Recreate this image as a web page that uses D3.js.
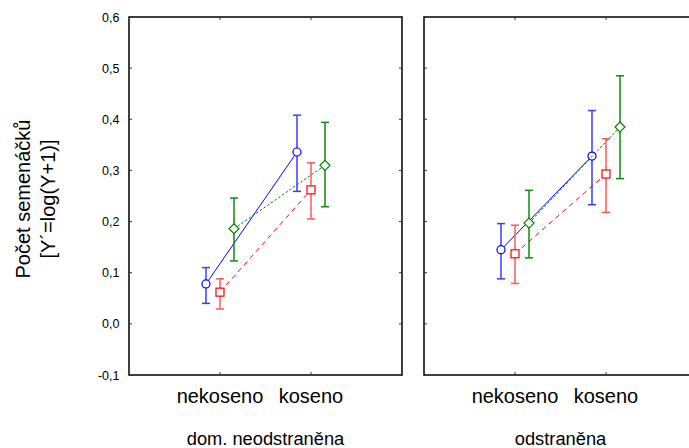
<!DOCTYPE html>
<html>
<head>
<meta charset="utf-8">
<script src="https://cdn.jsdelivr.net/npm/d3@7"></script>
<style>
  body { margin: 0; background: #fff; }
  text { font-family: "Liberation Sans", Arial, sans-serif; fill: #000; }
</style>
</head>
<body>
<svg id="chart" width="689" height="448"></svg>
<script>
// panels and categories
let panels = ["dom. neodstraněna", "odstraněna"];
let categories = ["nekoseno", "koseno"];
let yTicks = [-0.1, 0, 0.1, 0.2, 0.3, 0.4, 0.5, 0.6];

// means per series: [panel][category]
let blueMean  = [[0.078, 0.336], [0.145, 0.328]];
let blueLow   = [[0.040, 0.259], [0.088, 0.233]];
let blueHigh  = [[0.110, 0.408], [0.196, 0.417]];

let redMean   = [[0.062, 0.262], [0.137, 0.293]];
let redLow    = [[0.029, 0.205], [0.079, 0.218]];
let redHigh   = [[0.088, 0.315], [0.193, 0.362]];

let greenMean = [[0.186, 0.310], [0.197, 0.385]];
let greenLow  = [[0.123, 0.229], [0.129, 0.284]];
let greenHigh = [[0.246, 0.394], [0.261, 0.485]];

let series = [
    { mean: blueMean, low: blueLow, high: blueHigh, color: "#0000ff", bar: "#3b3bff", dash: null, shape: "circle", offset: -14 },
    { mean: redMean, low: redLow, high: redHigh, color: "#ff0000", bar: "#ff5a5a", dash: "5,4", shape: "square", offset: 0 },
    { mean: greenMean, low: greenLow, high: greenHigh, color: "#008000", bar: "#108a10", dash: "2.5,2", shape: "diamond", offset: 14 }
];

let svg = d3.select("#chart");

let plotTop = 17, plotBottom = 375, panelW = 273;
let panelLeft = [129, 424];

let y = d3.scaleLinear().domain([-0.1, 0.6]).range([plotBottom, plotTop]);

let fmt = v => d3.format(".1f")(v).replace(".", ",").replace("−", "-");

// y tick labels on left
svg.append("g").selectAll("text")
    .data(yTicks)
    .enter()
    .append("text")
    .attr("x", 119.5)
    .attr("y", d => y(d) + 4.5)
    .attr("text-anchor", "end")
    .style("font-size", "12.5px")
    .text(fmt);

// y axis title
let yt = svg.append("text")
    .attr("transform", "translate(36," + 199 + ") rotate(-90)")
    .attr("text-anchor", "middle")
    .style("font-size", "20px");
yt.append("tspan").attr("x", 0).attr("dy", "-6").text("Počet semenáčků");
yt.append("tspan").attr("x", 0).attr("dy", "25").text("[Y´=log(Y+1)]");

panels.forEach(function(name, p) {
    let x0 = panelLeft[p];
    let x = d3.scalePoint().domain(categories).range([x0, x0 + panelW]).padding(1);
    let g = svg.append("g");

    // frame
    g.append("rect")
        .attr("x", x0).attr("y", plotTop)
        .attr("width", panelW).attr("height", plotBottom - plotTop)
        .attr("fill", "none").attr("stroke", "#000").attr("stroke-width", 1.5);

    // inward ticks
    g.selectAll(".yt").data(yTicks).enter().append("line")
        .attr("x1", x0).attr("x2", x0 + 3)
        .attr("y1", d => y(d)).attr("y2", d => y(d))
        .attr("stroke", "#333");
    g.selectAll(".yt2").data(yTicks).enter().append("line")
        .attr("x1", x0 + panelW).attr("x2", x0 + panelW - 3)
        .attr("y1", d => y(d)).attr("y2", d => y(d))
        .attr("stroke", "#333");
    g.selectAll(".xt").data(categories).enter().append("line")
        .attr("x1", d => x(d)).attr("x2", d => x(d))
        .attr("y1", plotTop).attr("y2", plotTop + 3)
        .attr("stroke", "#333");
    g.selectAll(".xb").data(categories).enter().append("line")
        .attr("x1", d => x(d)).attr("x2", d => x(d))
        .attr("y1", plotBottom).attr("y2", plotBottom - 3)
        .attr("stroke", "#333");

    // category labels
    g.selectAll(".cl").data(categories).enter().append("text")
        .attr("x", d => x(d))
        .attr("y", 403)
        .attr("text-anchor", "middle")
        .style("font-size", "20px")
        .text(d => d);

    // panel title
    g.append("text")
        .attr("x", x0 + panelW / 2)
        .attr("y", 445)
        .attr("text-anchor", "middle")
        .style("font-size", "18.3px")
        .text(name);

    series.forEach(function(s) {
        let pts = categories.map((c, i) => ({
            x: x(c) + s.offset,
            m: s.mean[p][i], lo: s.low[p][i], hi: s.high[p][i]
        }));

        // error bars
        pts.forEach(function(d) {
            g.append("line")
                .attr("x1", d.x).attr("x2", d.x)
                .attr("y1", y(d.lo)).attr("y2", y(d.hi))
                .attr("stroke", s.bar).attr("stroke-width", 1.5);
            [d.lo, d.hi].forEach(function(v) {
                g.append("line")
                    .attr("x1", d.x - 4).attr("x2", d.x + 4)
                    .attr("y1", y(v)).attr("y2", y(v))
                    .attr("stroke", s.bar).attr("stroke-width", 1.5);
            });
        });

        // connecting line
        g.append("path")
            .datum(pts)
            .attr("d", d3.line().x(d => d.x).y(d => y(d.m)))
            .attr("fill", "none")
            .attr("stroke", s.color)
            .attr("stroke-width", 1)
            .attr("stroke-dasharray", s.dash);

        // markers
        pts.forEach(function(d) {
            let mk;
            if (s.shape == "circle") {
                mk = g.append("circle").attr("cx", d.x).attr("cy", y(d.m)).attr("r", 4);
            } else if (s.shape == "square") {
                mk = g.append("rect").attr("x", d.x - 4).attr("y", y(d.m) - 4)
                    .attr("width", 8).attr("height", 8);
            } else {
                let cx = d.x, cy = y(d.m);
                mk = g.append("path")
                    .attr("d", "M" + cx + "," + (cy - 5) + "L" + (cx + 5) + "," + cy +
                        "L" + cx + "," + (cy + 5) + "L" + (cx - 5) + "," + cy + "Z");
            }
            mk.attr("fill", "#fff").attr("stroke", s.color).attr("stroke-width", 1.2);
        });
    });
});
</script>
</body>
</html>
